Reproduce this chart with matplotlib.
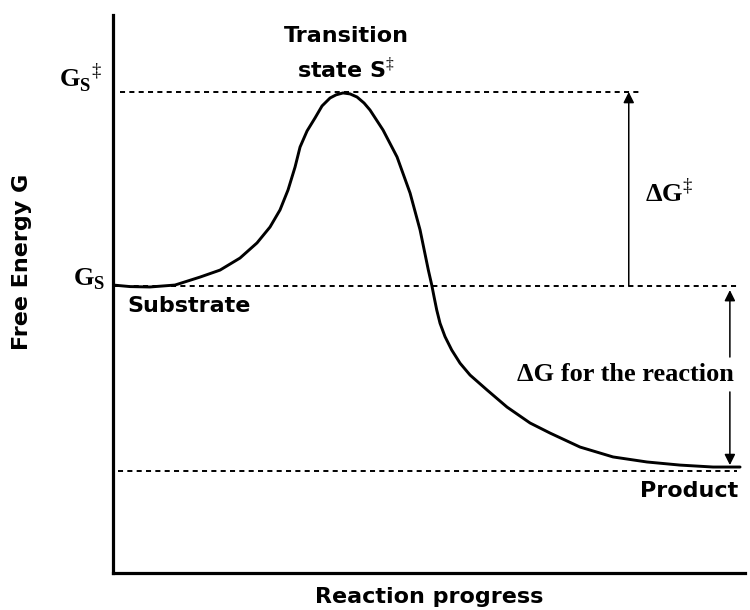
import numpy as np
import matplotlib; matplotlib.use("Agg")
import matplotlib.pyplot as plt

# energy profile (x: reaction progress 0-100, y: G relative to substrate)
progress = [0.00, 2.69, 5.85, 9.81, 13.77, 16.93, 20.09, 22.78, 24.84, 26.42, 27.69, 28.80,
            29.59, 30.70, 31.96, 33.07, 34.34, 35.28, 36.39, 37.50, 38.61, 39.72, 40.66,
            42.72, 44.94, 47.00, 48.58, 49.89, 50.43, 50.79, 51.22, 51.74, 52.53, 53.59,
            54.91, 56.49, 59.18, 62.34, 65.98, 69.15, 73.89, 79.11, 84.49, 89.72, 94.94, 99.21]
energy = [0.05, -0.03, -0.05, 0.05, 0.46, 0.82, 1.44, 2.22, 3.04, 3.92, 4.95, 6.13,
          7.16, 7.99, 8.66, 9.28, 9.69, 9.85, 9.95, 9.90, 9.74, 9.43, 9.07,
          8.04, 6.65, 4.79, 2.89, 0.82, 0.05, -0.55, -1.24, -1.92, -2.61, -3.30,
          -3.98, -4.59, -5.36, -6.24, -7.06, -7.58, -8.30, -8.81, -9.07, -9.23, -9.33, -9.33]
G_S, G_TS, G_P = 0.0, 10.0, -9.54

SANS = {'family': 'DejaVu Sans', 'weight': 'bold', 'size': 16}
SERIF = {'family': 'Liberation Serif', 'weight': 'bold', 'size': 19}
plt.rcParams.update({'mathtext.fontset': 'custom', 'mathtext.rm': 'Liberation Serif',
                     'mathtext.bf': 'Liberation Serif:bold'})

fig = plt.figure(figsize=(7.5, 6.1), dpi=100)
ax = fig.add_axes([0.1507, 0.0607, 0.8427, 0.9148])
ax.set_xlim(0, 100); ax.set_ylim(-14.79, 13.97)

dash = dict(color='black', lw=1.4, ls=(0, (2.6, 2.2)))
ax.plot([1.1, 83.7], [G_TS, G_TS], **dash)
ax.plot([0.3, 98.7], [G_S, G_S], **dash)
ax.plot([0.8, 98.7], [G_P, G_P], **dash)

ax.plot(progress, energy, color='black', lw=2.1, solid_capstyle='round', solid_joinstyle='round')

# arrows
arr = dict(arrowstyle='-|>', color='black', lw=1.1, mutation_scale=16, shrinkA=0, shrinkB=0)
ax.annotate('', xy=(81.6, G_TS), xytext=(81.6, G_S), arrowprops=arr)
ax.annotate('', xy=(97.6, -0.21), xytext=(97.6, -3.66), arrowprops=arr)
ax.annotate('', xy=(97.6, -9.23), xytext=(97.6, -5.46), arrowprops=arr)

# labels
ax.text(36.9, 12.58, 'Transition', ha='center', va='baseline', **SANS)
ax.text(36.9, 10.72, 'state S$^{‡}$', ha='center', va='baseline', **SANS)
ax.text(2.2, -1.34, 'Substrate', ha='left', va='baseline', **SANS)
ax.text(98.9, -10.88, 'Product', ha='right', va='baseline', **SANS)
ax.text(84.2, 4.33, 'ΔG$^{‡}$', ha='left', va='baseline', **SERIF)
ax.text(81.0, -4.90, 'ΔG for the reaction', ha='center', va='baseline', **SERIF)
ax.text(-1.74, 10.21, r'$\mathbf{G}_\mathbf{S}{}^{‡}$', ha='right', va='baseline', size=19)
ax.text(-1.27, 0.05, r'$\mathbf{G}_\mathbf{S}$', ha='right', va='baseline', size=19)

ax.set_xlabel('Reaction progress', labelpad=10, **SANS)
ax.set_ylabel('Free Energy G', **SANS)
ax.yaxis.set_label_coords(-0.128, 0.557)

for s in ('top', 'right'):
    ax.spines[s].set_visible(False)
for s in ('left', 'bottom'):
    ax.spines[s].set_linewidth(2.3)
ax.set_xticks([]); ax.set_yticks([])

fig.savefig('out.png', dpi=100)
